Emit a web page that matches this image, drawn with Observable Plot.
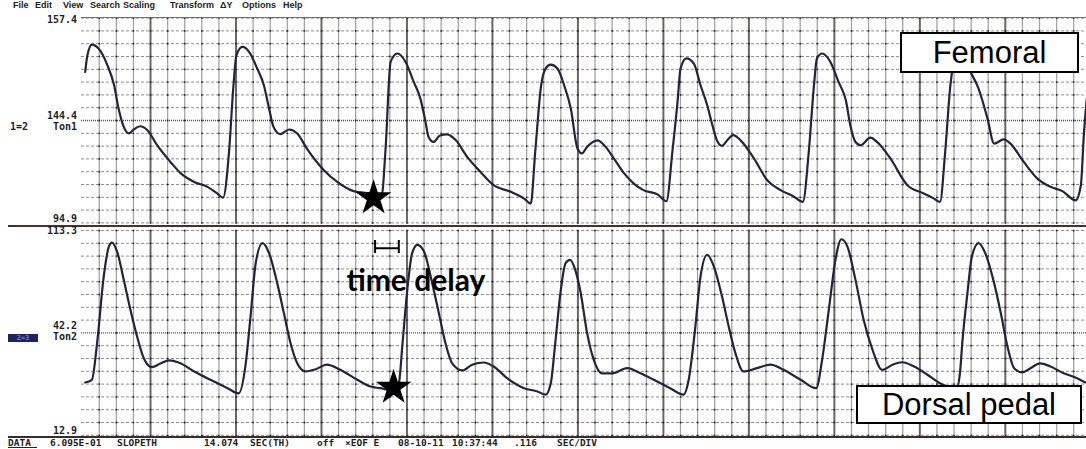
<!DOCTYPE html>
<html>
<head>
<meta charset="utf-8">
<script src="https://cdn.jsdelivr.net/npm/d3@7"></script>
<script src="https://cdn.jsdelivr.net/npm/@observablehq/plot@0.6"></script>
<style>
  body { margin: 0; background: #fff; }
  #wrap { position: relative; width: 1086px; height: 449px; overflow: hidden; background: #fff; }
  .abs { position: absolute; white-space: pre; }
  .mono { font-family: "DejaVu Sans Mono", monospace; font-weight: bold; font-size: 10px; line-height: 10px; color: #1e1e1e; }
  .menu { font-family: "Liberation Sans", Arial, sans-serif; font-weight: bold; font-size: 9px; line-height: 9px; color: #222; }
  .rlab { text-align: right; width: 60px; left: 17px; }
  .hline { position: absolute; height: 0; }
  .tag { position: absolute; box-sizing: border-box; border: 2px solid #000; background: #fff;
         font-family: "Liberation Sans", Arial, sans-serif; color: #000; display: flex; align-items: center; justify-content: center; }
  .panel { position: absolute; left: 0; }
</style>
</head>
<body>
<div id="wrap">
  <div id="top" class="panel" style="top:0"></div>
  <div id="bottom" class="panel" style="top:226px"></div>
</div>
<script>
// Pulse traces: time in ms from the left edge of the sweep, pressure in channel units
const femoralTime = [5, 8, 14, 23, 35, 44, 50, 57, 64, 71, 79, 89, 102, 120, 134, 152, 170, 183, 191, 199, 205, 209, 217, 226, 237, 246, 253, 259, 268, 280, 291, 304, 327, 345, 367, 390, 405, 410, 417, 426, 437, 448, 457, 464, 468, 475, 483, 493, 505, 520, 538, 556, 579, 597, 606, 612, 620, 626, 633, 642, 651, 660, 669, 675, 682, 696, 707, 718, 732, 745, 758, 777, 789, 797, 804, 808, 816, 826, 835, 844, 851, 857, 864, 871, 879, 889, 907, 925, 943, 961, 973, 981, 988, 992, 999, 1010, 1021, 1031, 1037, 1044, 1051, 1064, 1073, 1091, 1114, 1136, 1150, 1158, 1165, 1172, 1177, 1183, 1191, 1199, 1210, 1222, 1231, 1244, 1253, 1271, 1289, 1307, 1323, 1341, 1348, 1352, 1356];
const femoralPressure = [141.0, 146.1, 149.3, 148.1, 143.0, 136.9, 129.8, 124.2, 122.2, 123.5, 124.4, 123.2, 118.6, 113.5, 110.0, 107.4, 105.9, 103.9, 102.6, 116.6, 136.9, 146.1, 148.6, 147.1, 142.0, 136.9, 129.8, 124.2, 122.0, 123.4, 122.2, 117.6, 111.0, 107.4, 104.6, 103.9, 103.4, 117.0, 144.1, 146.6, 144.1, 138.0, 132.9, 125.8, 121.2, 119.6, 121.5, 121.9, 120.1, 115.1, 110.5, 106.4, 104.4, 102.3, 100.8, 116.6, 136.9, 142.0, 143.2, 142.0, 136.9, 129.8, 117.6, 116.1, 118.1, 120.1, 118.1, 114.6, 110.0, 106.9, 104.9, 103.6, 101.5, 116.6, 131.9, 142.0, 145.1, 143.5, 136.9, 130.8, 124.7, 120.1, 118.4, 120.1, 121.7, 120.1, 114.6, 107.9, 104.9, 102.9, 101.3, 116.6, 136.9, 145.1, 146.6, 144.1, 138.0, 132.3, 124.7, 119.6, 118.6, 120.9, 119.6, 114.6, 106.4, 103.9, 102.3, 101.3, 116.6, 136.9, 144.1, 146.0, 144.5, 141.0, 135.9, 126.8, 119.1, 120.4, 119.1, 113.5, 108.5, 105.9, 104.6, 101.8, 106.4, 121.7, 132.9];

const pedalTime = [5, 14, 21, 30, 37, 41, 48, 57, 66, 75, 84, 95, 107, 118, 131, 152, 174, 197, 212, 221, 228, 235, 244, 253, 264, 273, 282, 291, 302, 316, 331, 349, 372, 390, 403, 420, 428, 433, 439, 446, 453, 462, 473, 482, 491, 500, 514, 527, 543, 556, 574, 597, 615, 626, 633, 639, 646, 653, 659, 666, 673, 682, 691, 702, 716, 736, 754, 772, 794, 812, 819, 828, 835, 844, 853, 864, 873, 882, 893, 911, 929, 947, 970, 991, 999, 1008, 1017, 1025, 1033, 1044, 1055, 1067, 1080, 1094, 1107, 1123, 1141, 1156, 1168, 1180, 1185, 1188, 1195, 1201, 1210, 1219, 1231, 1240, 1249, 1258, 1269, 1280, 1293, 1307, 1325, 1343, 1354];
const pedalPressure = [38.8, 40.1, 58.0, 90.8, 105.5, 107.4, 103.0, 89.1, 74.4, 61.3, 50.7, 46.3, 48.2, 49.6, 48.6, 44.2, 40.1, 36.0, 33.5, 46.6, 71.1, 97.3, 107.1, 102.2, 87.5, 72.8, 58.0, 48.2, 44.2, 45.3, 47.5, 45.0, 40.1, 36.8, 36.0, 34.9, 38.4, 58.0, 82.6, 102.2, 106.3, 103.0, 87.5, 72.8, 58.0, 48.2, 44.7, 47.5, 48.6, 46.6, 40.9, 36.0, 34.4, 32.8, 38.4, 58.0, 82.6, 97.3, 98.9, 94.0, 83.4, 63.0, 49.9, 43.3, 43.3, 45.8, 43.3, 40.1, 36.0, 32.8, 40.1, 66.2, 90.8, 101.4, 95.6, 80.9, 66.2, 53.2, 44.2, 45.8, 47.5, 45.0, 40.1, 36.0, 49.9, 74.4, 98.9, 109.0, 105.5, 89.1, 69.5, 54.8, 45.0, 47.5, 48.7, 46.6, 42.6, 38.8, 36.8, 35.4, 43.7, 58.0, 82.6, 100.6, 107.1, 102.2, 87.5, 72.8, 56.4, 45.8, 43.7, 45.8, 48.2, 46.6, 43.3, 40.9, 38.8];

// Channel full-scale limits and the reference levels printed beside them
const femoralScale = [94.9, 157.4];
const pedalScale = [12.9, 113.3];
const femoralLabels = ["157.4", "144.4", "94.9"];
const pedalLabels = ["113.3", "42.2", "12.9"];

// Foot of the wave on each channel, and the delay between the two feet
const femoralFoot = {t: 394, v: 102.5};
const pedalFoot = {t: 421, v: 36.3};
const delayStart = 396, delayEnd = 428;
const delayLevel = 104.6, delayTickLow = 102.0, delayTickHigh = 108.4;
const delayLabel = {t: 451, v: 88.3, text: "time delay"};

// Sweep and chart-paper divisions (ms)
const sweepSpan = [0, 1355.6];
const firstMajor = 93.1, majorStep = 115.3, minorPerMajor = 5;

const minorStep = majorStep / minorPerMajor;
const verticals = d3.range(1, 60).map(i => firstMajor - 4 * minorStep + i * minorStep).filter(t => t < sweepSpan[1]);
const majorX = verticals.filter((t, i) => (i + 1) % minorPerMajor === 4);
const minorX = verticals.filter((t, i) => (i + 1) % minorPerMajor !== 4);

const zip = (ts, vs) => ts.map((t, i) => ({t, v: vs[i]}));

function panel({series, scale, extra, height, marginTop, marginBottom}) {
  const [lo, hi] = scale;
  const rows = d3.range(17).map(i => lo + (hi - lo) * i / 16);
  const mid = rows[8];
  const crossings = verticals.flatMap(t => rows.map(v => ({t, v})));
  return Plot.plot({
    width: 1086, height,
    marginLeft: 81, marginRight: 0, marginTop, marginBottom,
    x: {domain: sweepSpan, axis: null},
    y: {domain: scale, axis: null},
    style: {background: "transparent", overflow: "visible"},
    marks: [
      Plot.ruleY(rows.filter((_, i) => i !== 8), {stroke: "#8e8e8e", strokeWidth: 1, strokeDasharray: "3,2"}),
      Plot.ruleX(minorX, {stroke: "#a4a4a4", strokeWidth: 1.3}),
      Plot.ruleX(majorX, {stroke: "#6f6464", strokeWidth: 2}),
      Plot.ruleY([mid], {stroke: "#4e4e4e", strokeWidth: 1.4, strokeDasharray: "1,1"}),
      Plot.dot(crossings, {x: "t", y: "v", r: 0.9, fill: "#222", stroke: null}),
      Plot.line(series, {x: "t", y: "v", curve: "monotone-x", stroke: "#23233e", strokeWidth: 2.2}),
      ...extra
    ]
  });
}

const topChart = panel({
  series: zip(femoralTime, femoralPressure),
  scale: femoralScale,
  height: 226, marginTop: 17.6, marginBottom: 3.6,
  extra: [
    Plot.dot([femoralFoot], {x: "t", y: "v", symbol: "star", r: 11.2, fill: "#000", stroke: null})
  ]
});

const bottomChart = panel({
  series: zip(pedalTime, pedalPressure),
  scale: pedalScale,
  height: 211, marginTop: 4, marginBottom: 2.2,
  extra: [
    Plot.dot([pedalFoot], {x: "t", y: "v", symbol: "star", r: 11.2, fill: "#000", stroke: null}),
    Plot.ruleY([delayLevel], {x1: delayStart, x2: delayEnd, stroke: "#000", strokeWidth: 2}),
    Plot.ruleX([delayStart, delayEnd], {y1: delayTickLow, y2: delayTickHigh, stroke: "#000", strokeWidth: 2}),
    Plot.text([delayLabel], {x: "t", y: "v", text: "text", fontSize: 30, fontWeight: "bold",
      fontFamily: "Lato, 'Open Sans', sans-serif", fill: "#000"})
  ]
});

document.getElementById("top").appendChild(topChart);
document.getElementById("bottom").appendChild(bottomChart);

// Window chrome: menu, channel labels, separators, status line, trace tags
const wrap = document.getElementById("wrap");
function put(html, cls, style) {
  const el = document.createElement("div");
  el.className = cls;
  el.innerHTML = html;
  Object.assign(el.style, style);
  wrap.appendChild(el);
  return el;
}

const menuItems = [["File", 13], ["Edit", 35], ["View", 63], ["Search", 90], ["Scaling", 123], ["Transform", 170], ["\u0394Y", 220], ["Options", 242], ["Help", 283]];
menuItems.forEach(([w, x]) => put(w, "abs menu", {left: x + "px", top: "1px"}));

put("", "hline", {left: "81px", width: "1005px", top: "17px", borderTop: "1px solid #7b6b6b"});
put("", "hline", {left: "8px", width: "1078px", top: "225px", borderTop: "2px solid #4a2f2f"});
put("", "hline", {left: "8px", width: "1078px", top: "436px", borderTop: "2px solid #3d2a2a"});

put(femoralLabels[0], "abs mono rlab", {top: "15px"});
put(femoralLabels[1], "abs mono rlab", {top: "111px"});
put("Ton1", "abs mono rlab", {top: "122px"});
put("1=2", "abs mono", {left: "10px", top: "122px"});
put(femoralLabels[2], "abs mono rlab", {top: "214px"});
put(pedalLabels[0], "abs mono rlab", {top: "226px"});
put(pedalLabels[1], "abs mono rlab", {top: "321px"});
put("Ton2", "abs mono rlab", {top: "332px"});
put(pedalLabels[2], "abs mono rlab", {top: "426px"});
put("2=3", "abs mono", {left: "8px", top: "334px", width: "30px", height: "8px", lineHeight: "8px", fontSize: "7px",
  background: "#1b2266", color: "#6f7fc0", textAlign: "center"});

const status = [["DATA", 8], ["6.095E-01", 50], ["SLOPETH", 117], ["14.074", 204], ["SEC(TH)", 250], ["off", 317],
  ["\u00d7EOF E", 345], ["08-10-11", 398], ["10:37:44", 452], [".116", 514], ["SEC/DIV", 557]];
status.forEach(([s, x]) => put(s, "abs mono", {left: x + "px", top: "438px", fontSize: "9.5px"}));
put("", "hline", {left: "8px", width: "29px", top: "447px", borderTop: "1px solid #222"});

put("Femoral", "tag", {left: "900px", top: "32px", width: "179px", height: "41px", fontSize: "31px"});
put("Dorsal pedal", "tag", {left: "856px", top: "385px", width: "226px", height: "39px", fontSize: "31px"});
</script>
</body>
</html>
